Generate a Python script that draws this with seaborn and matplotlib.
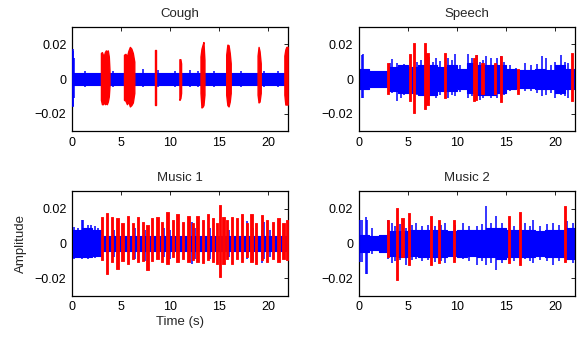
import numpy as np
import matplotlib
matplotlib.use("Agg")
import matplotlib.pyplot as plt
import seaborn as sns
import pandas as pd

sns.set_style("white")
plt.rcParams['font.family'] = ['Liberation Sans', 'DejaVu Sans']
plt.rcParams['axes.unicode_minus'] = True

# ---------------- data ----------------
titles = ["Cough", "Speech", "Music 1", "Music 2"]
seconds = list(range(23))  # band envelope breakpoints (s)
x_ticks = [0, 5, 10, 15, 20]
y_ticks = [-0.02, 0, 0.02]
y_ticklabels = ["\u22120.02", "0", "0.02"]

# Cough
cough_hi = [0.0036] * 22
cough_lo = [-0.0034] * 22
cough_spk_t = [0.05, 0.15, 0.25, 1.3, 4.2, 7.2, 8.8, 10.5, 12.0, 12.8, 14.5, 17.2, 19.6, 21.0]
cough_spk_hi = [0.0175, 0.016, 0.012, 0.0048, 0.0045, 0.0058, 0.005, 0.0048, 0.0052, 0.0048, 0.0048, 0.0048, 0.0045, 0.0048]
cough_spk_lo = [-0.0155, -0.016, -0.011, -0.0045, -0.0045, -0.0048, -0.0048, -0.0045, -0.0048, -0.0045, -0.0045, -0.0048, -0.0045, -0.0045]
# red bursts: samples of the envelope, grouped by burst id
cough_red_burst = [1] * 10 + [2] * 8 + [3] * 2 + [4] * 3 + [5] * 5 + [6] * 5 + [7] * 4 + [8] * 4
cough_red_t = [2.95, 3.05, 3.15, 3.25, 3.35, 3.45, 3.55, 3.65, 3.75, 3.82,
               5.3, 5.45, 5.6, 5.75, 5.9, 6.05, 6.2, 6.35,
               8.42, 8.58,
               10.95, 11.05, 11.12,
               13.1, 13.2, 13.3, 13.4, 13.5,
               15.72, 15.84, 15.96, 16.08, 16.18,
               18.92, 19.02, 19.12, 19.24,
               21.65, 21.75, 21.85, 21.98]
cough_red_hi = [0.015, 0.0155, 0.014, 0.0135, 0.0155, 0.0165, 0.016, 0.0165, 0.013, 0.005,
                0.014, 0.0145, 0.013, 0.0163, 0.0185, 0.0175, 0.015, 0.010,
                0.0166, 0.0166,
                0.0114, 0.0114, 0.009,
                0.013, 0.0175, 0.0195, 0.0213, 0.011,
                0.014, 0.0198, 0.0195, 0.015, 0.009,
                0.0135, 0.0185, 0.016, 0.009,
                0.0135, 0.017, 0.0185, 0.0185]
cough_red_lo = [-0.012, -0.0145, -0.0145, -0.013, -0.0145, -0.014, -0.0145, -0.013, -0.010, -0.004,
                -0.012, -0.0125, -0.0145, -0.013, -0.0158, -0.015, -0.0135, -0.008,
                -0.0149, -0.0149,
                -0.012, -0.011, -0.008,
                -0.008, -0.0164, -0.016, -0.015, -0.009,
                -0.009, -0.015, -0.0158, -0.013, -0.008,
                -0.009, -0.0135, -0.013, -0.008,
                -0.009, -0.0147, -0.0147, -0.0147]

# Speech
speech_hi = [0.006, 0.0045, 0.0045, 0.007, 0.008, 0.007, 0.008, 0.008, 0.007, 0.008, 0.006,
             0.009, 0.008, 0.008, 0.008, 0.006, 0.005, 0.005, 0.006, 0.005, 0.008, 0.006]
speech_lo = [-0.006, -0.0045, -0.0045, -0.007, -0.008, -0.008, -0.009, -0.009, -0.007, -0.007, -0.006,
             -0.008, -0.009, -0.009, -0.008, -0.006, -0.005, -0.005, -0.006, -0.006, -0.008, -0.006]
speech_spk_t = [0.3, 0.37, 3.2, 3.4, 3.9, 4.3, 4.6, 5.9, 6.3, 7.1, 7.6, 7.9, 8.3, 9.1, 9.5, 9.8, 10.3,
                11.1, 11.5, 12.0, 12.3, 12.7, 13.0, 13.5, 14.1, 14.5, 14.8, 15.4, 16.0, 16.9, 17.5, 18.2,
                18.7, 19.1, 19.6, 20.0, 20.6, 21.0, 21.3]
speech_spk_hi = [0.0141, 0.0147, 0.009, 0.0114, 0.009, 0.008, 0.0085, 0.010, 0.011, 0.0126, 0.010, 0.0122, 0.0106, 0.012, 0.011, 0.0143, 0.008,
                 0.0147, 0.0122, 0.0141, 0.010, 0.011, 0.013, 0.012, 0.012, 0.0133, 0.010, 0.008, 0.0065, 0.009, 0.008, 0.0085,
                 0.013, 0.0122, 0.008, 0.010, 0.0141, 0.010, 0.009]
speech_spk_lo = [-0.0107, -0.011, -0.007, -0.008, -0.0124, -0.011, -0.009, -0.009, -0.008, -0.012, -0.010, -0.0107, -0.009, -0.011, -0.009, -0.010, -0.0075,
                 -0.011, -0.0095, -0.009, -0.012, -0.011, -0.009, -0.011, -0.0107, -0.010, -0.009, -0.007, -0.006, -0.007, -0.007, -0.008,
                 -0.010, -0.009, -0.008, -0.0107, -0.009, -0.010, -0.0107]
speech_red_t = [2.95, 5.2, 5.6, 6.7, 7.0, 8.8, 11.7, 11.9, 12.6, 13.9, 14.5, 16.2, 21.7]
speech_red_hi = [0.0095, 0.0143, 0.021, 0.0206, 0.0152, 0.0152, 0.012, 0.014, 0.0095, 0.0095, 0.013, 0.0057, 0.0152]
speech_red_lo = [-0.0086, -0.0124, -0.0194, -0.0171, -0.0149, -0.0107, -0.0124, -0.012, -0.0086, -0.0086, -0.0133, -0.0086, -0.0124]

# Music 1
music1_hi = [0.008, 0.009, 0.008] + [0.0045] * 19
music1_lo = [-0.0075, -0.008, -0.007] + [-0.0042] * 19
music1_spk_t = [0.2, 0.6, 1.0, 1.15, 1.6, 1.9, 2.3, 2.6, 4.3, 6.4, 7.4, 9.4, 10.0, 12.2, 12.5, 14.1, 16.0, 17.8, 18.5, 19.35, 19.6, 20.2]
music1_spk_hi = [0.0095, 0.009, 0.0137, 0.0135, 0.0106, 0.0106, 0.010, 0.009, 0.008, 0.009, 0.008, 0.009, 0.008, 0.0125, 0.009, 0.009, 0.008, 0.013, 0.009, 0.008, 0.0125, 0.008]
music1_spk_lo = [-0.009, -0.0085, -0.0089, -0.0073, -0.009, -0.008, -0.0085, -0.007, -0.008, -0.009, -0.010, -0.008, -0.009, -0.0116, -0.009, -0.009, -0.008, -0.009, -0.010, -0.0112, -0.009, -0.008]
music1_red_t = [3.03, 3.54, 4.05, 4.63, 5.14, 5.68, 6.19, 6.7, 7.21, 7.69, 8.13, 8.71, 9.15, 9.73,
                10.27, 10.75, 11.3, 11.87, 12.3, 12.79, 13.33, 13.84, 14.35, 14.76, 15.1, 15.44,
                15.78, 16.3, 16.8, 17.3, 17.8, 18.3, 18.8, 19.35, 19.9, 20.5, 21.05, 21.56, 21.95]
music1_red_hi = [0.0149, 0.0174, 0.0154, 0.0145, 0.012, 0.0158, 0.012, 0.0149, 0.0125, 0.0106, 0.0145, 0.0154, 0.0125, 0.0183,
                 0.0135, 0.0168, 0.0125, 0.0158, 0.0116, 0.0158, 0.0135, 0.0168, 0.0145, 0.0116, 0.0222, 0.0154,
                 0.0135, 0.0154, 0.0145, 0.0168, 0.0116, 0.0168, 0.0116, 0.0164, 0.0135, 0.0125, 0.0145, 0.012, 0.0135]
music1_red_lo = [-0.0093, -0.0174, -0.0106, -0.0145, -0.010, -0.0116, -0.0087, -0.0106, -0.010, -0.0154, -0.010, -0.0087, -0.0106, -0.0116,
                 -0.0077, -0.0106, -0.0087, -0.0106, -0.0097, -0.0106, -0.0112, -0.0097, -0.0106, -0.0116, -0.0193, -0.0116,
                 -0.0087, -0.0116, -0.0087, -0.0106, -0.0077, -0.0106, -0.0116, -0.0093, -0.0106, -0.0087, -0.0106, -0.0087, -0.0093]

# Music 2
music2_hi = [0.005, 0.004, 0.005, 0.007, 0.007, 0.008, 0.008, 0.008, 0.008, 0.007, 0.008,
             0.008, 0.008, 0.009, 0.009, 0.008, 0.008, 0.008, 0.007, 0.008, 0.008, 0.009]
music2_lo = [-0.005, -0.004, -0.005, -0.007, -0.008, -0.007, -0.008, -0.008, -0.008, -0.007, -0.008,
             -0.007, -0.008, -0.008, -0.009, -0.008, -0.008, -0.008, -0.007, -0.008, -0.008, -0.009]
music2_spk_t = [0.14, 0.27, 0.75, 0.78, 1.29, 3.0, 3.33, 3.7, 4.2, 4.85, 5.4, 5.87, 6.4, 7.0, 7.8, 8.4, 8.8, 9.8, 10.6,
                11.2, 12.0, 12.5, 13.0, 13.5, 14.0, 14.6, 15.8, 16.9, 17.4, 17.8, 18.5, 19.2, 19.8, 20.4, 21.2, 21.8]
music2_spk_hi = [0.0137, 0.0137, 0.0153, 0.0137, 0.009, 0.0137, 0.0118, 0.010, 0.011, 0.009, 0.0105, 0.0118, 0.010, 0.0105, 0.010, 0.0105, 0.0118, 0.0105, 0.0118,
                 0.010, 0.0098, 0.011, 0.0214, 0.012, 0.0156, 0.0115, 0.010, 0.0118, 0.010, 0.0137, 0.010, 0.011, 0.0118, 0.0105, 0.0127, 0.0118]
music2_spk_lo = [-0.0104, -0.0104, -0.0172, -0.0172, -0.006, -0.009, -0.0114, -0.010, -0.0095, -0.0124, -0.0095, -0.009, -0.010, -0.0095, -0.0105, -0.010, -0.0114, -0.0095, -0.009,
                 -0.010, -0.0124, -0.010, -0.0124, -0.011, -0.015, -0.011, -0.010, -0.009, -0.010, -0.0114, -0.0095, -0.010, -0.0124, -0.010, -0.009, -0.0114]
music2_red_t = [3.0, 3.9, 4.45, 5.1, 7.33, 8.15, 9.68, 15.3, 16.4, 20.98]
music2_red_hi = [0.0137, 0.0205, 0.0147, 0.0172, 0.0156, 0.0137, 0.0137, 0.0156, 0.018, 0.0214]
music2_red_lo = [-0.0075, -0.021, -0.0075, -0.0124, -0.0124, -0.0114, -0.0104, -0.0114, -0.0124, -0.0104]

# ---------------- drawing ----------------
BLUE = "#0000ff"
RED = "#ff0000"
BAR_W = 0.22

fig = plt.figure(figsize=(5.77, 3.37), dpi=100)
positions = [
    [0.1248, 0.611, 0.374, 0.309],
    [0.622, 0.611, 0.374, 0.309],
    [0.1248, 0.122, 0.374, 0.311],
    [0.622, 0.122, 0.374, 0.311],
]

blue_data = [
    (cough_hi, cough_lo, cough_spk_t, cough_spk_hi, cough_spk_lo),
    (speech_hi, speech_lo, speech_spk_t, speech_spk_hi, speech_spk_lo),
    (music1_hi, music1_lo, music1_spk_t, music1_spk_hi, music1_spk_lo),
    (music2_hi, music2_lo, music2_spk_t, music2_spk_hi, music2_spk_lo),
]
red_bars = [
    None,
    (speech_red_t, speech_red_hi, speech_red_lo),
    (music1_red_t, music1_red_hi, music1_red_lo),
    (music2_red_t, music2_red_hi, music2_red_lo),
]

for i, (pos, title) in enumerate(zip(positions, titles)):
    hi, lo, st, sh, sl = blue_data[i]
    ax = fig.add_axes(pos)
    band = pd.DataFrame({"t": seconds, "hi": hi + [hi[-1]], "lo": lo + [lo[-1]]})
    sns.lineplot(data=band, x="t", y="hi", ax=ax, color=BLUE, lw=0.8, drawstyle="steps-post", zorder=2)
    sns.lineplot(data=band, x="t", y="lo", ax=ax, color=BLUE, lw=0.8, drawstyle="steps-post", zorder=2)
    ax.fill_between(band["t"], band["lo"], band["hi"], step="post", color=BLUE, lw=0, zorder=2)
    ax.vlines(st, sl, sh, color=BLUE, lw=1.1, zorder=3)

    if i == 0:
        red = pd.DataFrame({"b": cough_red_burst, "t": cough_red_t, "hi": cough_red_hi, "lo": cough_red_lo})
        for _, g in red.groupby("b"):
            ax.fill_between(g["t"], g["lo"], g["hi"], color=RED, edgecolor=RED, lw=1.0, zorder=4)
    else:
        rt, rh, rl = red_bars[i]
        for t, h, l in zip(rt, rh, rl):
            ax.fill_between([t - BAR_W / 2, t + BAR_W / 2], [l, l], [h, h],
                            color=RED, edgecolor=RED, lw=0.6, zorder=4)

    ax.set_xlim(0, 22)
    ax.set_ylim(-0.03, 0.03)
    ax.set_xticks(x_ticks)
    ax.set_xticklabels([str(v) for v in x_ticks])
    ax.set_yticks(y_ticks)
    ax.set_yticklabels(y_ticklabels)
    ax.tick_params(direction="in", length=3, width=0.6, top=True, right=True,
                   labelsize=9, pad=4, colors="black")
    for s in ax.spines.values():
        s.set_color("black")
        s.set_linewidth(0.9)
    ax.set_title(title, fontsize=9.5, pad=7)
    ax.set_xlabel("")
    ax.set_ylabel("")
    if i == 2:
        ax.set_xlabel("Time (s)", fontsize=9.5, labelpad=1.5)
        ax.set_ylabel("Amplitude", fontsize=9.5, labelpad=6)

fig.savefig("out.png", dpi=100)
